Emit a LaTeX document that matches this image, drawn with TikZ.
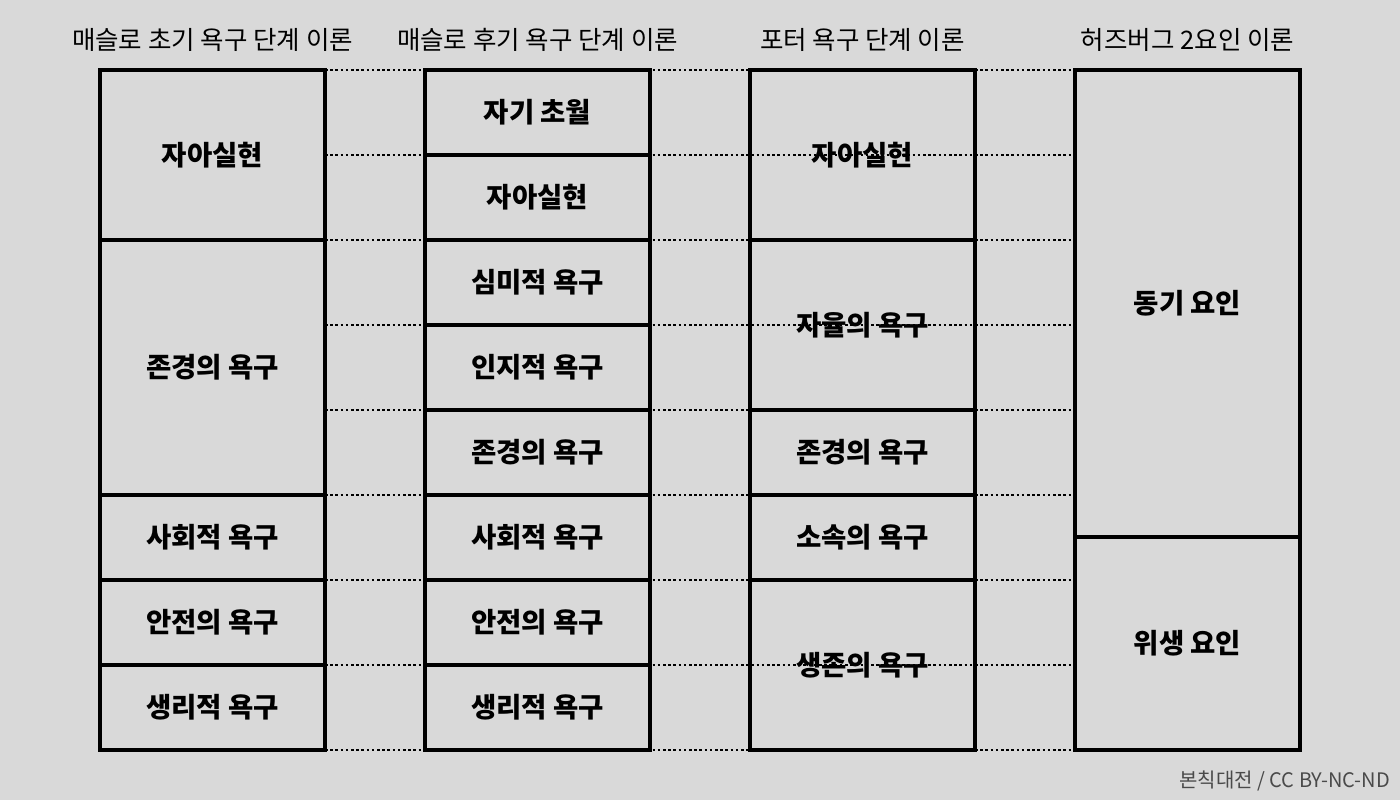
\documentclass[tikz,border=0pt]{standalone}
\usepackage{fontspec}
\setmainfont{Noto Sans CJK KR}
\definecolor{bg}{HTML}{D9D9D9}
\definecolor{foot}{HTML}{4A4A4A}
\tikzset{
  cell/.style={draw=black, line width=3.6pt, minimum width=225pt, inner sep=0pt,
    font=\fontsize{27.5}{30}\selectfont\bfseries},
  hdr/.style={font=\fontsize{25.5}{28}\selectfont, inner sep=0pt},
  dotline/.style={line width=2.6pt, dash pattern=on 2.6pt off 2.6pt},
}
\begin{document}
\begin{tikzpicture}[x=1pt,y=-1pt]
\useasboundingbox[fill=bg] (0,0) rectangle (1400,800);
% dotted guide lines
\foreach \i/\yy in {0/70,1/155,2/240,3/325,4/410,5/495,6/580,7/665,8/750}{
  \coordinate (dL\i) at (325,\yy);
  \coordinate (dR\i) at (1075,\yy);
  \draw[dotline] (dL\i) -- (dR\i);
}
% headers
\node[hdr] (h1) at (212.5,40) {매슬로 초기 욕구 단계 이론};
\node[hdr] (h2) at (537.5,40) {매슬로 후기 욕구 단계 이론};
\node[hdr] (h3) at (862.5,40) {포터 욕구 단계 이론};
\node[hdr] (h4) at (1187.5,40) {허즈버그 2요인 이론};
% column 1
\node[cell, minimum height=170pt] (a1) at (212.5,155) {자아실현};
\node[cell, minimum height=255pt] (a2) at (212.5,367.5) {존경의 욕구};
\node[cell, minimum height=85pt] (a3) at (212.5,537.5) {사회적 욕구};
\node[cell, minimum height=85pt] (a4) at (212.5,622.5) {안전의 욕구};
\node[cell, minimum height=85pt] (a5) at (212.5,707.5) {생리적 욕구};
% column 2
\node[cell, minimum height=85pt] (b1) at (537.5,112.5) {자기 초월};
\node[cell, minimum height=85pt] (b2) at (537.5,197.5) {자아실현};
\node[cell, minimum height=85pt] (b3) at (537.5,282.5) {심미적 욕구};
\node[cell, minimum height=85pt] (b4) at (537.5,367.5) {인지적 욕구};
\node[cell, minimum height=85pt] (b5) at (537.5,452.5) {존경의 욕구};
\node[cell, minimum height=85pt] (b6) at (537.5,537.5) {사회적 욕구};
\node[cell, minimum height=85pt] (b7) at (537.5,622.5) {안전의 욕구};
\node[cell, minimum height=85pt] (b8) at (537.5,707.5) {생리적 욕구};
% column 3
\node[cell, minimum height=170pt] (c1) at (862.5,155) {자아실현};
\node[cell, minimum height=170pt] (c2) at (862.5,325) {자율의 욕구};
\node[cell, minimum height=85pt] (c3) at (862.5,452.5) {존경의 욕구};
\node[cell, minimum height=85pt] (c4) at (862.5,537.5) {소속의 욕구};
\node[cell, minimum height=170pt] (c5) at (862.5,665) {생존의 욕구};
% column 4
\node[cell, minimum height=467pt] (d1) at (1187.5,303.5) {동기 요인};
\node[cell, minimum height=213pt] (d2) at (1187.5,643.5) {위생 요인};
% footer
\node[anchor=base east, inner sep=0pt, text=foot, font=\fontsize{20}{22}\selectfont] (ft) at (1390,787) {본칙대전 / CC BY-NC-ND};
\end{tikzpicture}
\end{document}
